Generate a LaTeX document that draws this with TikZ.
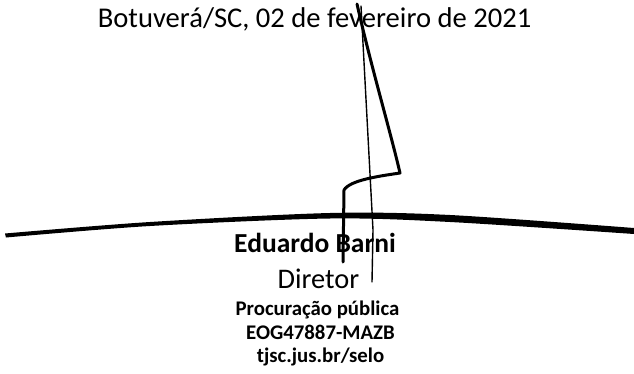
\documentclass[tikz,border=0pt]{standalone}
\usepackage{fontspec}
\setmainfont{Carlito}
\begin{document}
\begin{tikzpicture}[x=1pt,y=-1pt,
  txt/.style={inner sep=0pt,anchor=base,text=black},
  small/.style={txt,font=\fontsize{20.8}{24}\selectfont\bfseries},
  ink/.style={draw=black,line cap=round,line join=round}]
\useasboundingbox (0,0) rectangle (634,374);
\fill[white] (0,0) rectangle (634,374);
\node[txt,font=\fontsize{28.6}{32}\selectfont] (date) at (314.5,28) {Botuverá/SC, 02 de fevereiro de 2021};
\node[txt,font=\fontsize{27.5}{31}\selectfont\bfseries] (name) at (315,252) {Eduardo Barni};
\node[txt,font=\fontsize{28.4}{32}\selectfont] (role) at (318.5,288) {Diretor};
\node[small] (proc) at (317.5,315) {Procuração pública};
\node[small] (code) at (320.5,339.5) {EOG47887-MAZB};
\node[small] (site) at (320.5,362) {tjsc.jus.br/selo};
% signature: long horizontal stroke (tapered)
\fill[black] plot[smooth,tension=0.5] coordinates {(5,233.5) (150,222) (330,213) (450,215) (634,228)}
  -- plot[smooth,tension=0.5] coordinates {(634,234) (450,222) (330,218.5) (150,226) (6,237.5)} -- cycle;
\draw[ink,line width=3pt] (357,4) .. controls (372,70) and (390,130) .. (400,173) .. controls (380,176) and (350,180) .. (344,190) -- (343,262);
\draw[ink,line width=1.4pt] (361,6) -- (373,230) -- (372,282);
\end{tikzpicture}
\end{document}
